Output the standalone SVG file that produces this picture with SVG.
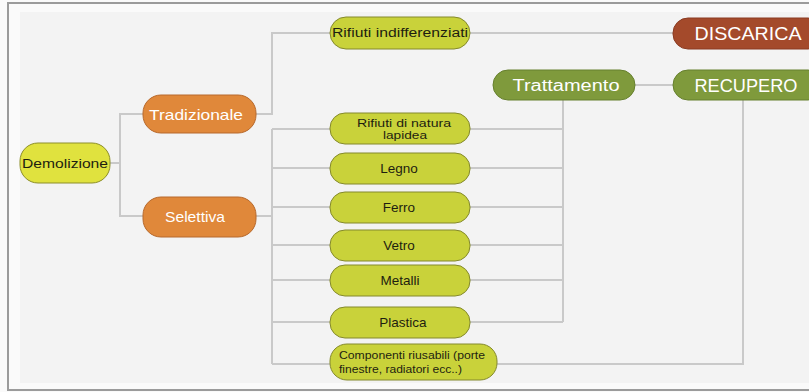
<svg xmlns="http://www.w3.org/2000/svg" width="809" height="392" viewBox="0 0 809 392">
<style>
.bg{fill:#fafafa}
.frame{fill:none;stroke:#9b9b9b;stroke-width:2}
.panel{fill:#f3f3f3}
.con{fill:none;stroke:#c9c9c9;stroke-width:2}
.yl{fill:#e0e23e;stroke:#8d8f2a;stroke-width:1}
.gr{fill:#c9d23a;stroke:#84892c;stroke-width:1}
.or{fill:#e0883a;stroke:#b7692c;stroke-width:1}
.br{fill:#a44a2b;stroke:#8a3b22;stroke-width:1}
.ol{fill:#7f9a3c;stroke:#66802e;stroke-width:1}
text{font-family:"Liberation Sans","DejaVu Sans",sans-serif;text-anchor:middle}
.dk{fill:#1e1e10}
.wt{fill:#ffffff}
.sm{font-size:13.5px}
</style>
<rect class="bg" x="0" y="0" width="809" height="392"/>
<rect class="panel" x="20" y="12" width="800" height="371"/>
<rect class="frame" x="8" y="3" width="810" height="387"/>
<g id="connectors">
<path class="con" d="M110,163 H120 M143,114 H120 V216 H143"/>
<path class="con" d="M256,114 H272 V33 H330"/>
<path class="con" d="M256,216 H272 M272,129 V364"/>
<path class="con" d="M272,129 H330 M272,168 H330 M272,207 H330 M272,245 H330 M272,280 H330 M272,322 H330 M272,364 H330"/>
<path class="con" d="M470,33 H673"/>
<path class="con" d="M635,85 H673"/>
<path class="con" d="M470,129 H563 M470,168 H563 M470,207 H563 M470,245 H563 M470,280 H563 M470,322 H563 M563,100 V322"/>
<path class="con" d="M743,100 V364 H497"/>
</g>
<g id="demolizione">
<rect class="yl" x="20" y="143" width="90" height="40" rx="18"/>
<text class="dk" x="65" y="168" font-size="13" textLength="86" lengthAdjust="spacingAndGlyphs">Demolizione</text>
</g>
<g id="tradizionale">
<rect class="or" x="143" y="95" width="113" height="38" rx="18"/>
<text class="wt" x="196" y="120" font-size="15" textLength="94" lengthAdjust="spacingAndGlyphs">Tradizionale</text>
</g>
<g id="selettiva">
<rect class="or" x="143" y="197" width="113" height="40" rx="18"/>
<text class="wt" x="195" y="222" font-size="15" textLength="60" lengthAdjust="spacingAndGlyphs">Selettiva</text>
</g>
<g id="rifiuti-indifferenziati">
<rect class="gr" x="330" y="17" width="140" height="32" rx="16"/>
<text class="dk" x="400" y="37" font-size="12.5" textLength="136" lengthAdjust="spacingAndGlyphs">Rifiuti indifferenziati</text>
</g>
<g id="discarica">
<rect class="br" x="673" y="18" width="150" height="31" rx="15"/>
<text class="wt" x="748" y="40" font-size="19" textLength="107" lengthAdjust="spacingAndGlyphs">DISCARICA</text>
</g>
<g id="trattamento">
<rect class="ol" x="493" y="70" width="142" height="30" rx="15"/>
<text class="wt" x="566" y="91" font-size="16" textLength="107" lengthAdjust="spacingAndGlyphs">Trattamento</text>
</g>
<g id="recupero">
<rect class="ol" x="673" y="70" width="150" height="30" rx="15"/>
<text class="wt" x="746" y="92" font-size="19" textLength="103" lengthAdjust="spacingAndGlyphs">RECUPERO</text>
</g>
<g id="lapidea">
<rect class="gr" x="330" y="113" width="140" height="31" rx="15"/>
<text class="dk" x="404" y="127" font-size="11" textLength="94" lengthAdjust="spacingAndGlyphs">Rifiuti di natura</text>
<text class="dk" x="405" y="139" font-size="11" textLength="44" lengthAdjust="spacingAndGlyphs">lapidea</text>
</g>
<g id="legno">
<rect class="gr" x="330" y="153" width="140" height="31" rx="15"/>
<text class="dk sm" x="399" y="173">Legno</text>
</g>
<g id="ferro">
<rect class="gr" x="330" y="192" width="140" height="31" rx="15"/>
<text class="dk sm" x="399" y="212">Ferro</text>
</g>
<g id="vetro">
<rect class="gr" x="330" y="230" width="140" height="31" rx="15"/>
<text class="dk sm" x="399" y="250">Vetro</text>
</g>
<g id="metalli">
<rect class="gr" x="330" y="265" width="140" height="31" rx="15"/>
<text class="dk sm" x="400" y="285">Metalli</text>
</g>
<g id="plastica">
<rect class="gr" x="330" y="307" width="140" height="31" rx="15"/>
<text class="dk sm" x="403" y="327">Plastica</text>
</g>
<g id="componenti">
<rect class="gr" x="330" y="344" width="167" height="36" rx="17"/>
<text class="dk" x="339" y="359" font-size="10.5" style="text-anchor:start" textLength="146" lengthAdjust="spacingAndGlyphs">Componenti riusabili (porte</text>
<text class="dk" x="339" y="373" font-size="10.5" style="text-anchor:start" textLength="123" lengthAdjust="spacingAndGlyphs">finestre, radiatori ecc..)</text>
</g>
</svg>
